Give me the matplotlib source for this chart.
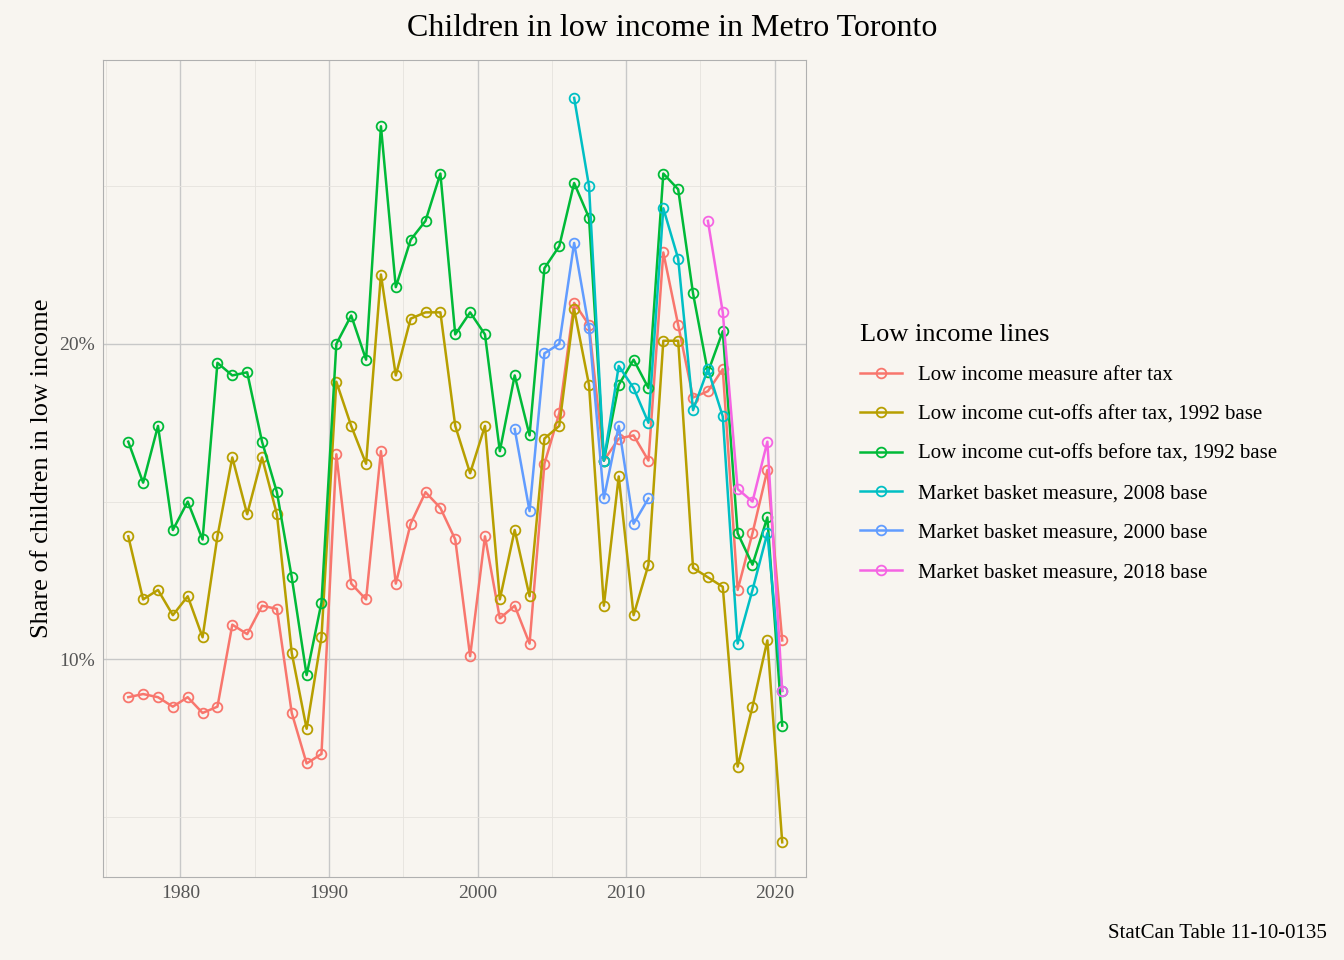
import matplotlib
matplotlib.use("Agg")
import matplotlib.pyplot as plt
from matplotlib.ticker import FuncFormatter, MultipleLocator

plt.rcParams['font.family'] = ['Liberation Serif', 'DejaVu Serif']

years_all = list(range(1976, 2021))
lim_at = [8.8,8.9,8.8,8.5,8.8,8.3,8.5,11.1,10.8,11.7,11.6,8.3,6.7,7.0,16.5,12.4,11.9,16.6,12.4,14.3,15.3,14.8,13.8,10.1,13.9,11.3,11.7,10.5,16.2,17.8,21.3,20.6,16.3,17.0,17.1,16.3,22.9,20.6,18.3,18.5,19.2,12.2,14.0,16.0,10.6]
lico_at = [13.9,11.9,12.2,11.4,12.0,10.7,13.9,16.4,14.6,16.4,14.6,10.2,7.8,10.7,18.8,17.4,16.2,22.2,19.0,20.8,21.0,21.0,17.4,15.9,17.4,11.9,14.1,12.0,17.0,17.4,21.1,18.7,11.7,15.8,11.4,13.0,20.1,20.1,12.9,12.6,12.3,6.6,8.5,10.6,4.2]
lico_bt = [16.9,15.6,17.4,14.1,15.0,13.8,19.4,19.0,19.1,16.9,15.3,12.6,9.5,11.8,20.0,20.9,19.5,26.9,21.8,23.3,23.9,25.4,20.3,21.0,20.3,16.6,19.0,17.1,22.4,23.1,25.1,24.0,16.3,18.7,19.5,18.6,25.4,24.9,21.6,19.1,20.4,14.0,13.0,14.5,7.9]
years_mbm08 = list(range(2006, 2021))
mbm08 = [27.8,25.0,16.3,19.3,18.6,17.5,24.3,22.7,17.9,19.2,17.7,10.5,12.2,14.0,9.0]
years_mbm00 = list(range(2002, 2012))
mbm00 = [17.3,14.7,19.7,20.0,23.2,20.5,15.1,17.4,14.3,15.1]
years_mbm18 = list(range(2015, 2021))
mbm18 = [23.9,21.0,15.4,15.0,16.9,9.0]

series = [
    ("Low income measure after tax", years_all, lim_at, "#F8766D"),
    ("Low income cut-offs after tax, 1992 base", years_all, lico_at, "#B79F00"),
    ("Low income cut-offs before tax, 1992 base", years_all, lico_bt, "#00BA38"),
    ("Market basket measure, 2008 base", years_mbm08, mbm08, "#00BFC4"),
    ("Market basket measure, 2000 base", years_mbm00, mbm00, "#619CFF"),
    ("Market basket measure, 2018 base", years_mbm18, mbm18, "#F564E3"),
]

bg = "#f8f5f0"
fig = plt.figure(figsize=(13.44, 9.6), dpi=100, facecolor=bg)
ax = fig.add_axes([103/1344, 1-877/960, 703/1344, 817/960], facecolor=bg)
for name, xs, ys, c in series:
    ax.plot([x + 0.5 for x in xs], ys, color=c, lw=1.8, marker='o', ms=7,
            mfc='none', mew=1.3, label=name)

ax.set_xlim(1974.8, 2022.1)
ax.set_ylim(3.1, 29.0)
ax.xaxis.set_major_locator(MultipleLocator(10))
ax.xaxis.set_minor_locator(MultipleLocator(5))
ax.yaxis.set_major_locator(MultipleLocator(10))
ax.yaxis.set_minor_locator(MultipleLocator(5))
ax.yaxis.set_major_formatter(FuncFormatter(lambda v, p: f"{v:.0f}%"))
ax.grid(which='major', color='#c8c8c8', lw=1.0)
ax.grid(which='minor', color='#e6e3de', lw=0.6)
ax.set_axisbelow(True)
for s in ax.spines.values():
    s.set_color('#b0b0b0')
ax.tick_params(which='both', length=0, labelsize=14, colors='#555555', pad=6)
ax.set_ylabel("Share of children in low income", fontsize=19)

fig.suptitle("Children in low income in Metro Toronto", fontsize=23, y=0.985)
leg = ax.legend(loc='upper left', bbox_to_anchor=(1.05, 0.7), frameon=False,
                fontsize=15, title="Low income lines", title_fontsize=19,
                labelspacing=0.95, handlelength=2.0, alignment='left')
fig.text(1327/1344, 1-933/960, "StatCan Table 11-10-0135", ha='right', va='center', fontsize=15)
fig.savefig("out.png", dpi=100, facecolor=bg)
